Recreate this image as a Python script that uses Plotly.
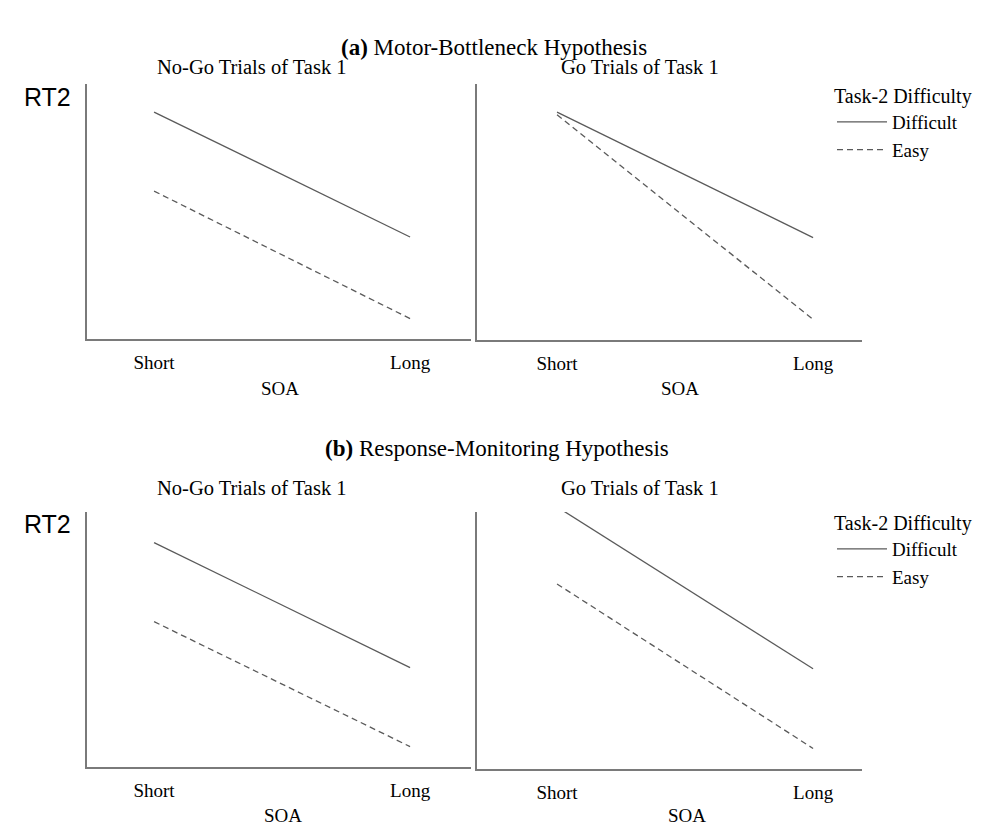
import plotly.graph_objects as go

# x categories (SOA) and predicted RT2 values (arbitrary units, 0-10 scale)
soa_levels = [0, 1]
soa_labels = ['Short', 'Long']

a_nogo_difficult = [8.9, 4.0]
a_nogo_easy = [5.8, 0.8]
a_go_difficult = [8.9, 4.0]
a_go_easy = [8.8, 0.8]

b_nogo_difficult = [8.8, 3.9]
b_nogo_easy = [5.7, 0.8]
b_go_difficult = [10.2, 3.9]
b_go_easy = [7.2, 0.8]

W, H = 985, 827
SERIF = 'Liberation Serif, Times New Roman, serif'
SANS = 'Liberation Sans, Arial, sans-serif'
LINE_COLOR = '#5a5a5a'
AXIS_COLOR = '#7a7a7a'


def px_x(p):
    return p / W


def px_y(p):
    return 1 - p / H


fig = go.Figure()

paneles = [
    # (xaxis, yaxis, difficult, easy, legend, showlegend)
    ('x', 'y', a_nogo_difficult, a_nogo_easy, 'legend', False),
    ('x2', 'y2', a_go_difficult, a_go_easy, 'legend', True),
    ('x3', 'y3', b_nogo_difficult, b_nogo_easy, 'legend2', False),
    ('x4', 'y4', b_go_difficult, b_go_easy, 'legend2', True),
]

for xa, ya, dif, easy, leg, show in paneles:
    fig.add_trace(go.Scatter(x=soa_levels, y=dif, mode='lines', name='Difficult',
                             xaxis=xa, yaxis=ya, legend=leg, showlegend=show,
                             cliponaxis=False,
                             line=dict(color=LINE_COLOR, width=1.3)))
    fig.add_trace(go.Scatter(x=soa_levels, y=easy, mode='lines', name='Easy',
                             xaxis=xa, yaxis=ya, legend=leg, showlegend=show,
                             cliponaxis=False,
                             line=dict(color=LINE_COLOR, width=1.3, dash='6px,4px')))

# pixel geometry of each panel: (left, right, top, bottom, xrange)
geom = {
    '': (87, 471, 84, 339, [-0.262, 1.238]),
    '2': (477, 862, 84, 340, [-0.3125, 1.191]),
    '3': (87, 471, 512, 767, [-0.262, 1.238]),
    '4': (477, 862, 512, 769, [-0.3125, 1.191]),
}

layout = {}
for k, (l, r, t, b, xr) in geom.items():
    layout['xaxis' + k] = dict(domain=[px_x(l), px_x(r)], range=xr,
                               anchor='y' + k, showline=True, linecolor=AXIS_COLOR,
                               linewidth=1.5, showgrid=False, zeroline=False,
                               tickvals=soa_levels, ticktext=soa_labels, ticks='',
                               ticklabelstandoff=5,
                               tickfont=dict(family=SERIF, size=19, color='black'))
    layout['yaxis' + k] = dict(domain=[px_y(b), px_y(t)], range=[0, 10],
                               anchor='x' + k, showline=True, linecolor=AXIS_COLOR,
                               linewidth=1.5, showgrid=False, zeroline=False,
                               showticklabels=False, ticks='')

fig.update_layout(**layout)

anotaciones = [
    ('<b>(a)</b> Motor-Bottleneck Hypothesis', 494, 47, SERIF, 23),
    ('<b>(b)</b> Response-Monitoring Hypothesis', 497, 449, SERIF, 23),
    ('No-Go Trials of Task 1', 252, 67, SERIF, 20.5),
    ('Go Trials of Task 1', 640, 67, SERIF, 20.5),
    ('No-Go Trials of Task 1', 252, 488, SERIF, 20.5),
    ('Go Trials of Task 1', 640, 488, SERIF, 20.5),
    ('SOA', 280, 388, SERIF, 19),
    ('SOA', 680, 388, SERIF, 19),
    ('SOA', 283, 815, SERIF, 19),
    ('SOA', 687, 815, SERIF, 19),
    ('RT2', 47, 97, SANS, 25),
    ('RT2', 47, 524, SANS, 25),
]
for texto, x, y, fam, size in anotaciones:
    fig.add_annotation(text=texto, x=px_x(x), y=px_y(y), xref='paper', yref='paper',
                       showarrow=False, xanchor='center', yanchor='middle',
                       font=dict(family=fam, size=size, color='black'))

leg_style = dict(title=dict(text='Task-2 Difficulty',
                            font=dict(family=SERIF, size=20, color='black')),
                 font=dict(family=SERIF, size=19, color='black'),
                 bgcolor='rgba(0,0,0,0)', borderwidth=0, itemwidth=50,
                 xanchor='left', yanchor='top', tracegroupgap=0)

fig.update_layout(
    width=W, height=H,
    margin=dict(l=0, r=0, t=0, b=0),
    paper_bgcolor='white', plot_bgcolor='white',
    legend=dict(x=px_x(832), y=px_y(77), **leg_style),
    legend2=dict(x=px_x(832), y=px_y(504), **leg_style),
)

fig.write_html('out.html', config={'displayModeBar': False},
               post_script="document.body.style.margin='0';document.body.style.overflow='hidden';")
